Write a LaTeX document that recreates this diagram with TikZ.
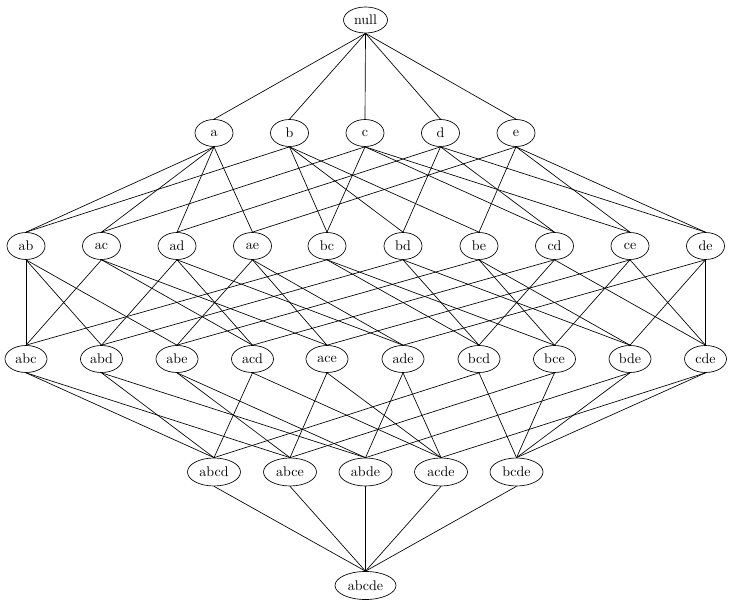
\documentclass[tikz,border=0pt]{standalone}
\usetikzlibrary{shapes.geometric}
\begin{document}
\begin{tikzpicture}[x=0.75pt,y=-0.75pt,
  setnode/.style={ellipse,draw,line width=0.5pt,inner sep=0pt,minimum height=20.25pt,minimum width=28.5pt,font=\fontsize{10.5}{12}\selectfont},
  s3/.style={setnode,minimum width=31.5pt},
  s4/.style={setnode,minimum width=39.75pt,minimum height=21pt},
  s5/.style={setnode,minimum width=45.75pt,minimum height=21pt},
  s0/.style={setnode,minimum width=33pt,minimum height=19.5pt},
  edge/.style={line width=0.5pt}]
\useasboundingbox (0,0) rectangle (731,605);
\node[s0] (null) at (365.5,20) {null};
% row 1
\foreach \n/\x in {a/214,b/289.5,c/365,d/440.5,e/516}
  \node[setnode] (\n) at (\x,133) {\n};
% row 2
\foreach \n/\x in {ab/26,ac/101.5,ad/177,ae/252.5,bc/327,bd/403,be/479,cd/554.5,ce/630,de/705.5}
  \node[setnode] (\n) at (\x,246) {\n};
% row 3
\foreach \n/\x in {abc/26,abd/101.5,abe/177,acd/252.5,ace/327,ade/403,bcd/479,bce/554.5,bde/630,cde/705.5}
  \node[s3] (\n) at (\x,359) {\n};
% row 4
\foreach \n/\x in {abcd/214,abce/290,abde/365.5,acde/441,bcde/516.5}
  \node[s4] (\n) at (\x,472) {\n};
\node[s5] (abcde) at (365.5,585.5) {abcde};
% edges
\foreach \p/\cs in {null/{a,b,c,d,e},
  a/{ab,ac,ad,ae}, b/{ab,bc,bd,be}, c/{ac,bc,cd,ce}, d/{ad,bd,cd,de}, e/{ae,be,ce,de},
  ab/{abc,abd,abe}, ac/{abc,acd,ace}, ad/{abd,acd,ade}, ae/{abe,ace,ade},
  bc/{abc,bcd,bce}, bd/{abd,bcd,bde}, be/{abe,bce,bde}, cd/{acd,bcd,cde},
  ce/{ace,bce,cde}, de/{ade,bde,cde},
  abc/{abcd,abce}, abd/{abcd,abde}, abe/{abce,abde}, acd/{abcd,acde},
  ace/{abce,acde}, ade/{abde,acde}, bcd/{abcd,bcde}, bce/{abce,bcde},
  bde/{abde,bcde}, cde/{acde,bcde},
  abcd/{abcde}, abce/{abcde}, abde/{abcde}, acde/{abcde}, bcde/{abcde}}
{
  \foreach \c in \cs {\draw[edge] (\p.south) -- (\c.north);}
}
\end{tikzpicture}
\end{document}
